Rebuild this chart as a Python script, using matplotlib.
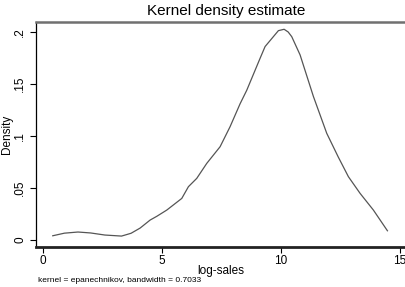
import matplotlib
matplotlib.use("Agg")
import matplotlib.pyplot as plt

plt.rcParams['font.family'] = ['Liberation Sans', 'DejaVu Sans']

# values
log_sales = [0.41, 0.9, 1.47, 2.0, 2.6, 3.3, 3.7, 4.08, 4.5, 4.78, 5.2, 5.83,
             6.11, 6.46, 6.88, 7.44, 7.86, 8.28, 8.56, 9.12, 9.33, 9.89, 10.13,
             10.3, 10.45, 10.8, 11.36, 11.92, 12.4, 12.83, 13.32, 13.88, 14.47]
density = [0.0041, 0.0066, 0.0077, 0.0068, 0.0048, 0.0038, 0.0065, 0.0115,
           0.0192, 0.0228, 0.0288, 0.040, 0.0513, 0.0593, 0.0737, 0.0897, 0.109,
           0.131, 0.144, 0.1747, 0.186, 0.2013, 0.2026, 0.200, 0.1955, 0.178,
           0.138, 0.1026, 0.080, 0.0609, 0.0449, 0.0288, 0.0089]
xticks = [0, 5, 10, 15]
yticks = [0, 0.05, 0.1, 0.15, 0.2]
yticklabels = ['0', '.05', '.1', '.15', '.2']

fig = plt.figure(figsize=(4.06, 2.87), dpi=100)
ax = fig.add_axes([36/406, 40/287, 370/406, 225/287])
ax.plot(log_sales, density, color='#555555', lw=0.9)
ax.set_xlim(-0.294, 15.25)
ax.set_ylim(-0.0067, 0.2096)

ax.set_xticks(xticks)
ax.set_yticks(yticks)
ax.set_yticklabels(yticklabels, rotation=90, va='center')
ax.tick_params(direction='out', length=4, width=0.8, labelsize=8.5, pad=2)
ax.tick_params(axis='y', pad=3)

ax.spines['right'].set_visible(False)
ax.spines['top'].set_color('#707070')
ax.spines['top'].set_linewidth(1.8)
ax.spines['left'].set_linewidth(0.9)
ax.spines['bottom'].set_linewidth(2.0)
ax.spines['bottom'].set_color('#222222')

ax.set_xlabel('log-sales', fontsize=8.5, labelpad=-1.5)
ax.set_ylabel('Density', fontsize=8.5, labelpad=1)
fig.text(226/406, 1 - 11/287, 'Kernel density estimate', ha='center', va='center', fontsize=11)
fig.text(38/406, 1 - 281/287, 'kernel = epanechnikov, bandwidth = 0.7033', ha='left', va='center', fontsize=6)

fig.savefig('out.png', dpi=100)
